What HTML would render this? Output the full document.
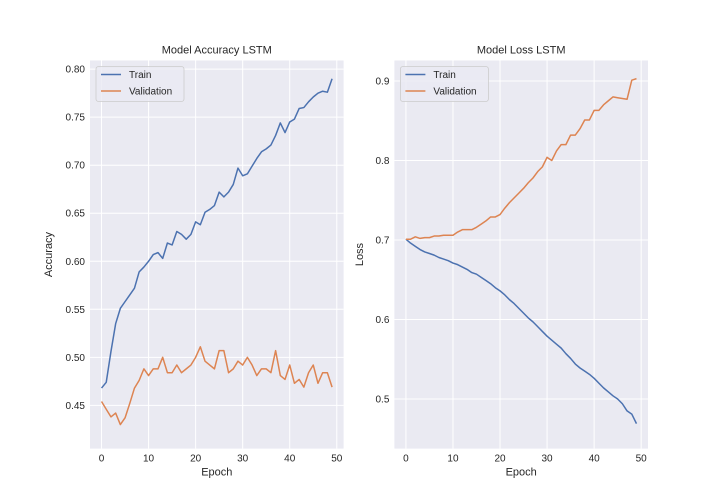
<!DOCTYPE html>
<html><head><meta charset="utf-8"><style>
html,body{margin:0;padding:0;background:#fff}
svg{display:block;font-family:"Liberation Sans","DejaVu Sans",sans-serif}
</style></head><body>
<svg id="fig" width="720" height="504"></svg>
<script>
const epochs = Array.from({length:50},(_, i)=>i);
const accTrain = [0.468,0.474,0.506,0.535,0.551,0.558,0.565,0.572,0.589,0.594,0.600,0.607,0.609,0.603,0.619,0.617,0.631,0.628,0.623,0.628,0.641,0.638,0.651,0.654,0.658,0.672,0.667,0.672,0.680,0.697,0.689,0.691,0.699,0.707,0.714,0.717,0.721,0.731,0.744,0.734,0.745,0.748,0.759,0.760,0.766,0.771,0.775,0.777,0.776,0.790];
const accVal = [0.454,0.446,0.438,0.442,0.430,0.437,0.452,0.468,0.476,0.488,0.481,0.488,0.488,0.500,0.484,0.484,0.492,0.484,0.488,0.492,0.500,0.511,0.496,0.492,0.488,0.507,0.507,0.484,0.488,0.496,0.492,0.500,0.492,0.481,0.488,0.488,0.484,0.507,0.481,0.477,0.492,0.473,0.477,0.469,0.484,0.492,0.473,0.484,0.484,0.469];
const lossTrain = [0.701,0.696,0.692,0.688,0.685,0.683,0.681,0.678,0.676,0.674,0.671,0.669,0.666,0.663,0.659,0.657,0.653,0.649,0.645,0.640,0.636,0.631,0.625,0.620,0.614,0.608,0.602,0.597,0.591,0.585,0.579,0.574,0.569,0.564,0.557,0.551,0.544,0.539,0.535,0.531,0.526,0.520,0.514,0.509,0.504,0.500,0.494,0.485,0.481,0.469];
const lossVal = [0.701,0.701,0.704,0.702,0.703,0.703,0.705,0.705,0.706,0.706,0.706,0.710,0.713,0.713,0.713,0.716,0.720,0.724,0.729,0.729,0.732,0.740,0.747,0.753,0.759,0.765,0.772,0.778,0.786,0.792,0.804,0.800,0.812,0.820,0.820,0.832,0.832,0.840,0.851,0.851,0.863,0.863,0.870,0.875,0.880,0.879,0.878,0.877,0.901,0.903];
const xTicks = [0,10,20,30,40,50];
const accTicks = [0.45,0.50,0.55,0.60,0.65,0.70,0.75,0.80];
const lossTicks = [0.5,0.6,0.7,0.8,0.9];

const NS="http://www.w3.org/2000/svg";
const svg=document.getElementById('fig');
function mk(tag,attrs,parent,text){const e=document.createElementNS(NS,tag);for(const k in attrs)e.setAttribute(k,attrs[k]);if(text!==undefined)e.textContent=text;(parent||svg).appendChild(e);return e;}

function panel(cfg){
  const g=mk('g',{});
  
  
  const L=cfg.left,R=cfg.left+253.6,T=60.5,B=448.6;
  const xs=v=>L+(v+2.45)/53.9*(R-L);
  const ys=v=>B-(v-cfg.ymin)/(cfg.ymax-cfg.ymin)*(B-T);
  const bg=mk('rect',{x:L,y:T,width:R-L,height:B-T,fill:'#eaeaf2'},g);
  
  
  xTicks.forEach(t=>{
    mk('line',{x1:xs(t),x2:xs(t),y1:T,y2:B,stroke:'#fff','stroke-width':1},g);
    const tl=mk('text',{x:xs(t),y:B+13,'font-size':10,'text-anchor':'middle',fill:'#262626'},g,String(t));
    
    
  });
  cfg.ticks.forEach(t=>{
    mk('line',{x1:L,x2:R,y1:ys(t),y2:ys(t),stroke:'#fff','stroke-width':1},g);
    const tl=mk('text',{x:L-5,y:ys(t)+3.5,'font-size':10,'text-anchor':'end',fill:'#262626'},g,t.toFixed(cfg.dec));
    
    
  });
  const series=[[cfg.train,'#4c72b0','train-line'],[cfg.val,'#dd8452','validation-line']];
  series.forEach(([d,c,n])=>{
    const p=mk('polyline',{points:d.map((v,i)=>xs(epochs[i])+','+ys(v)).join(' '),fill:'none',stroke:c,'stroke-width':1.5,'stroke-linejoin':'round'},g);
    
    
  });
  const title=mk('text',{x:(L+R)/2,y:T-7,'font-size':11,'text-anchor':'middle',fill:'#262626'},g,cfg.title);
  
  
  const xl=mk('text',{x:(L+R)/2,y:B+27,'font-size':11,'text-anchor':'middle',fill:'#262626'},g,'Epoch');
  
  
  const yx=cfg.ylabX, yy=(T+B)/2;
  const yl=mk('text',{x:yx,y:yy,'font-size':11,'text-anchor':'middle',fill:'#262626',transform:`rotate(-90 ${yx} ${yy})`},g,cfg.ylabel);
  
  
  const lg=mk('g',{},g);
  
  
  mk('rect',{x:L+6,y:T+6,width:88,height:35,rx:2.5,fill:'#eaeaf2','fill-opacity':0.8,stroke:'#cccccc','stroke-width':0.8},lg);
  [['Train','#4c72b0'],['Validation','#dd8452']].forEach(([lab,c],i)=>{
    const y=T+14+i*16.5;
    mk('line',{x1:L+11,x2:L+31,y1:y,y2:y,stroke:c,'stroke-width':1.5},lg);
    const t=mk('text',{x:L+39,y:y+3.5,'font-size':10,fill:'#262626'},lg,lab);
    
    
  });
}
panel({name:'accuracy-chart',left:90,ymin:0.405,ymax:0.809,ticks:accTicks,dec:2,train:accTrain,val:accVal,title:'Model Accuracy LSTM',ylabel:'Accuracy',ylabX:52});
panel({name:'loss-chart',left:394.4,ymin:0.4376,ymax:0.9258,ticks:lossTicks,dec:1,train:lossTrain,val:lossVal,title:'Model Loss LSTM',ylabel:'Loss',ylabX:363});
</script>
</body></html>
